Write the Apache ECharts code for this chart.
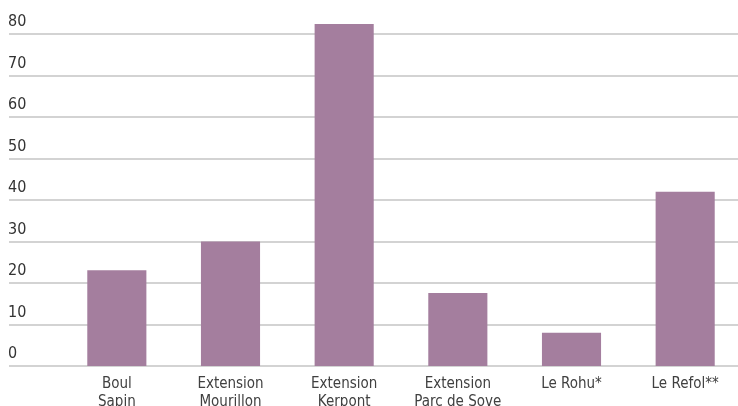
<!DOCTYPE html>
<html>
<head>
<meta charset="utf-8">
<script src="https://cdn.jsdelivr.net/npm/echarts@6/dist/echarts.min.js"></script>
<style>
  html, body { margin: 0; padding: 0; background: #fff; }
  #chart { width: 738px; height: 406px; }
</style>
</head>
<body>
<div id="chart"></div>
<script>
  // données
  var categories = ['Boul\nSapin', 'Extension\nMourillon', 'Extension\nKerpont', 'Extension\nParc de Sove', 'Le Rohu*', 'Le Refol**'];
  var values = [23.1, 30.0, 82.4, 17.6, 8.0, 42.0];
  var yTicks = [0, 10, 20, 30, 40, 50, 60, 70, 80];

  var font = '"DejaVu Sans Condensed", sans-serif';
  var myChart = echarts.init(document.getElementById('chart'));
  myChart.setOption({
    animation: false,
    grid: [
      { left: 9, right: 0, top: 34, bottom: 40, outerBoundsMode: 'none' },
      // même échelle (4.15 px par unité) mais max 90 pour ne pas couper Kerpont
      { left: 60, right: -4, top: -7.5, bottom: 40, outerBoundsMode: 'none' }
    ],
    xAxis: [
      { gridIndex: 0, type: 'value', show: false },
      {
        gridIndex: 1,
        type: 'category',
        data: categories,
        axisLine: { show: false },
        axisTick: { show: false },
        axisLabel: {
          interval: 0,
          margin: 9,
          color: '#404040',
          fontFamily: font,
          fontSize: 15,
          lineHeight: 18
        }
      }
    ],
    yAxis: [
      {
        gridIndex: 0,
        type: 'value',
        min: yTicks[0],
        max: yTicks[yTicks.length - 1],
        interval: 10,
        axisLine: { show: false },
        axisTick: { show: false },
        splitLine: { show: true, lineStyle: { color: '#c4c4c4', width: 1.5 } },
        axisLabel: {
          inside: true,
          margin: -1,
          align: 'left',
          verticalAlign: 'bottom',
          padding: [0, 0, 4, 0],
          color: '#333333',
          fontFamily: font,
          fontSize: 16
        }
      },
      {
        gridIndex: 1,
        type: 'value',
        min: 0,
        max: 90,
        interval: 10,
        show: false
      }
    ],
    series: [
      {
        type: 'bar',
        xAxisIndex: 1,
        yAxisIndex: 1,
        data: values,
        barWidth: '52%',
        itemStyle: { color: '#a47e9e' }
      }
    ]
  });
</script>
</body>
</html>
